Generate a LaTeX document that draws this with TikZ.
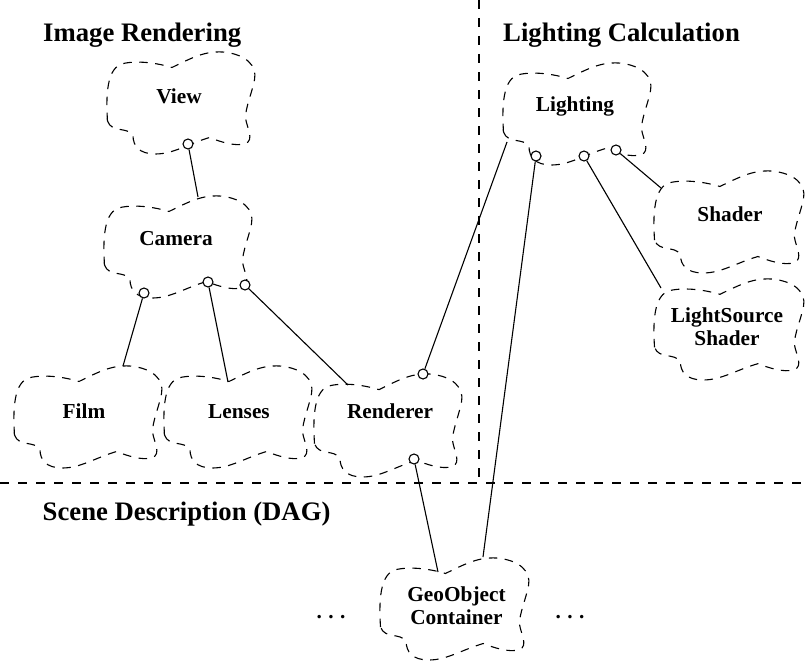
\documentclass[tikz,border=0pt]{standalone}
\usepackage{fontspec}
\setmainfont{Liberation Serif}
\begin{document}
\begin{tikzpicture}[x=1pt,y=-1pt,
  cloudline/.style={draw, line width=1.1pt, dash pattern=on 8.5pt off 7.5pt},
  lbl/.style={font=\bfseries\fontsize{21.3}{23}\selectfont, align=center, inner sep=0pt},
  ttl/.style={font=\bfseries\fontsize{26.7}{30}\selectfont, inner sep=0pt, anchor=base west},
  dotsty/.style={font=\bfseries\fontsize{21.3}{23}\selectfont, inner sep=0pt, anchor=base},
  port/.style={circle, draw, fill=white, line width=1.1pt, minimum size=10pt, inner sep=0pt},
  link/.style={line width=1.1pt},
  divider/.style={line width=1.2pt, dash pattern=on 9pt off 9pt},
  pics/cloud/.style={code={
    \draw[cloudline] (0.01,0.68)
      .. controls (0.0,0.45) and (0.0,0.15) .. (0.12,0.12)
      .. controls (0.22,0.09) and (0.35,0.12) .. (0.44,0.16)
      .. controls (0.58,0.06) and (0.66,0.0) .. (0.78,0.01)
      .. controls (0.93,0.03) and (1.01,0.14) .. (0.99,0.28)
      .. controls (0.97,0.42) and (0.93,0.55) .. (0.93,0.65)
      .. controls (0.94,0.75) and (0.99,0.86) .. (0.93,0.90)
      .. controls (0.86,0.93) and (0.76,0.88) .. (0.69,0.84)
      .. controls (0.55,0.90) and (0.45,1.0) .. (0.33,1.0)
      .. controls (0.22,1.0) and (0.18,0.92) .. (0.18,0.82)
      .. controls (0.14,0.73) and (0.04,0.80) .. cycle;
  }}
]
\useasboundingbox (0,0) rectangle (810,661);

% dividers
\coordinate (vtop) at (479,0);
\coordinate (cross) at (479,483);
\coordinate (hl) at (0,483);
\coordinate (hr) at (810,483);
\draw[divider] (vtop) -- (cross);
\draw[divider] (hl) -- (hr);

% titles
\node[ttl] (t1) at (43,41.5) {Image Rendering};
\node[ttl] (t2) at (503,41.5) {Lighting Calculation};
\node[ttl] (t3) at (42.5,520.5) {Scene Description (DAG)};

% clouds
\pic[shift={(106,51)}, xscale=150, yscale=103] {cloud};
\pic[shift={(103,195)}, xscale=150, yscale=103] {cloud};
\pic[shift={(13,365)}, xscale=150, yscale=103] {cloud};
\pic[shift={(163,365)}, xscale=150, yscale=103] {cloud};
\pic[shift={(313,373)}, xscale=150, yscale=104] {cloud};
\pic[shift={(502,62)}, xscale=150, yscale=103] {cloud};
\pic[shift={(653,170)}, xscale=152, yscale=103] {cloud};
\pic[shift={(653,278)}, xscale=152, yscale=102] {cloud};
\pic[shift={(379,557)}, xscale=151, yscale=103] {cloud};

% labels
\node[lbl, anchor=base] (view) at (179,103) {View};
\node[lbl, anchor=base] (camera) at (176,245) {Camera};
\node[lbl, anchor=base] (film) at (84,418) {Film};
\node[lbl, anchor=base] (lenses) at (239,418) {Lenses};
\node[lbl, anchor=base] (renderer) at (390,418) {Renderer};
\node[lbl, anchor=base] (lighting) at (575,111.5) {Lighting};
\node[lbl, anchor=base] (shader) at (730,221) {Shader};
\node[lbl] (lss) at (727,327) {LightSource\\Shader};
\node[lbl] (geo) at (456.5,606) {GeoObject\\Container};
\node[dotsty] (dl) at (331,618) {.\hspace{0.3em}.\hspace{0.3em}.};
\node[dotsty] (dr) at (570,618) {.\hspace{0.3em}.\hspace{0.3em}.};

% attachment points on cloud outlines
\coordinate (camT) at (198,197);
\coordinate (filmT) at (123,366);
\coordinate (lensT) at (228,382);
\coordinate (rendT) at (348,385);
\coordinate (lightL) at (507,142);
\coordinate (geoT1) at (438,572);
\coordinate (geoT2) at (483,557);
\coordinate (lsT) at (661,288);
\coordinate (shadT) at (661,188);

% ports
\node[port] (viewP) at (188,144) {};
\node[port] (camP1) at (144,293) {};
\node[port] (camP2) at (208,282) {};
\node[port] (camP3) at (245,285) {};
\node[port] (rendP1) at (423,374) {};
\node[port] (rendP2) at (414,459) {};
\node[port] (lightP1) at (536,156) {};
\node[port] (lightP2) at (584,156) {};
\node[port] (lightP3) at (616,150) {};

% links
\draw[link] (viewP) -- (camT);
\draw[link] (camP1) -- (filmT);
\draw[link] (camP2) -- (lensT);
\draw[link] (camP3) -- (rendT);
\draw[link] (rendP1) -- (lightL);
\draw[link] (rendP2) -- (geoT1);
\draw[link] (lightP1) -- (geoT2);
\draw[link] (lightP2) -- (lsT);
\draw[link] (lightP3) -- (shadT);
\end{tikzpicture}
\end{document}
